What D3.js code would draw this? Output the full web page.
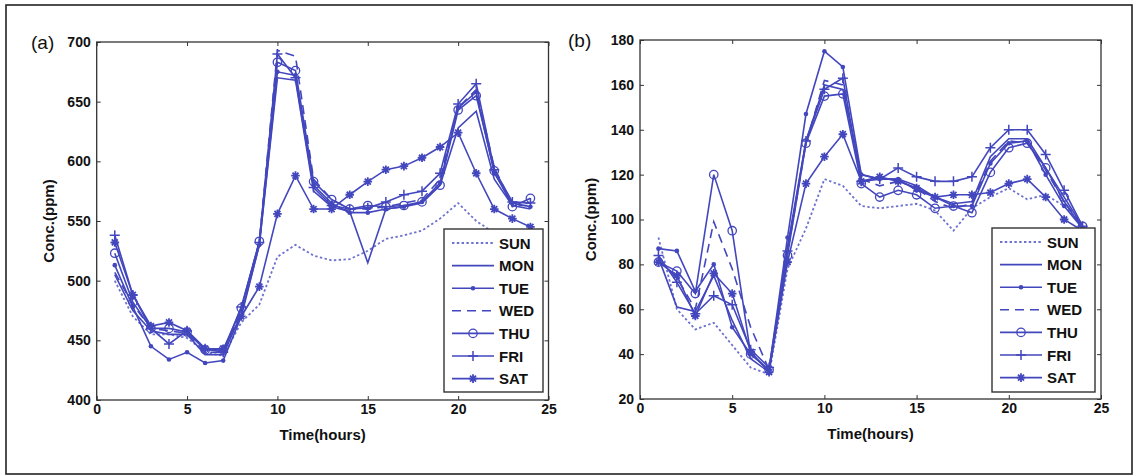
<!DOCTYPE html>
<html>
<head>
<meta charset="utf-8">
<script src="https://cdn.jsdelivr.net/npm/d3@7"></script>
<style>
  html, body { margin: 0; padding: 0; background: #fff; }
  svg { display: block; }
  text { font-family: "Liberation Sans", Arial, sans-serif; }
</style>
</head>
<body>
<svg id="chart" width="1133" height="475"></svg>
<script>
// ---------- DATA ----------
const hours = [1,2,3,4,5,6,7,8,9,10,11,12,13,14,15,16,17,18,19,20,21,22,23,24];
const days = ["SUN","MON","TUE","WED","THU","FRI","SAT"];

// Panel (a)
const sunA = [500,470,455,455,452,440,437,465,480,520,530,521,517,518,525,535,538,542,552,565,550,540,535,530];
const monA = [505,475,458,455,455,438,438,472,530,670,668,575,562,558,515,560,562,565,580,628,642,585,563,560];
const tueA = [513,478,445,434,440,431,433,470,530,675,672,580,565,557,557,560,562,566,582,645,658,590,565,562];
const wedA = [507,480,460,458,456,440,440,475,533,693,688,585,568,560,560,562,565,568,585,645,660,595,563,563];
const thuA = [523,482,460,460,457,442,442,477,533,683,676,583,568,560,563,562,563,566,580,643,655,592,562,569];
const friA = [538,488,460,447,458,443,440,478,532,690,670,578,563,560,561,566,572,575,590,648,665,593,566,565];
const satA = [532,488,462,465,458,443,443,470,495,556,588,560,560,572,583,593,596,603,612,624,590,560,552,545];

// Panel (b)
const sunB = [92,60,51,54,44,34,31,78,96,118,115,106,105,106,107,104,95,105,110,114,109,111,106,98];
const monB = [83,61,59,75,55,38,32,88,135,160,158,120,118,118,115,110,107,108,128,136,136,123,108,96];
const tueB = [87,86,68,80,52,40,33,92,147,175,168,120,118,118,113,110,106,106,125,134,135,120,106,96];
const wedB = [82,74,60,99,78,52,33,85,134,162,160,118,115,117,114,108,105,107,126,135,134,122,108,97];
const thuB = [81,77,67,120,95,40,33,84,134,155,156,116,110,113,111,105,106,103,121,132,134,123,110,97];
const friB = [84,72,58,66,62,42,34,86,135,158,163,117,118,123,119,117,117,119,132,140,140,129,113,97];
const satB = [81,75,57,76,67,41,32,81,116,128,138,117,119,117,114,110,111,111,112,116,118,110,100,95];

const xTicks = [0,5,10,15,20,25];
const yTicksA = [400,450,500,550,600,650,700];
const yTicksB = [20,40,60,80,100,120,140,160,180];

// ---------- STYLE ----------
const lineColor = "#4347bd";
const dotColor = "#6e72cf";
const styles = {
  SUN: {dash: "2.4,2.4", marker: null, color: dotColor},
  MON: {dash: null, marker: null, color: lineColor},
  TUE: {dash: null, marker: "dot", color: lineColor},
  WED: {dash: "9,6", marker: null, color: lineColor},
  THU: {dash: null, marker: "circle", color: lineColor},
  FRI: {dash: null, marker: "plus", color: lineColor},
  SAT: {dash: null, marker: "star", color: lineColor}
};

const svg = d3.select("#chart");

// outer frame
svg.append("rect").attr("x", 6).attr("y", 5).attr("width", 1126).attr("height", 469)
  .attr("fill", "none").attr("stroke", "#222").attr("stroke-width", 1.6);

function drawMarker(g, type, cx, cy, color) {
  if (!type) return;
  if (type === "dot") {
    g.append("circle").attr("cx", cx).attr("cy", cy).attr("r", 2.3).attr("fill", color);
  } else if (type === "circle") {
    g.append("circle").attr("cx", cx).attr("cy", cy).attr("r", 4.2)
      .attr("fill", "none").attr("stroke", color).attr("stroke-width", 1.3);
  } else if (type === "plus") {
    const s = 5;
    g.append("path").attr("d", `M${cx-s},${cy}H${cx+s}M${cx},${cy-s}V${cy+s}`)
      .attr("stroke", color).attr("stroke-width", 1.5).attr("fill", "none");
  } else if (type === "star") {
    const s = 4.3, d = 3.0;
    g.append("path").attr("d",
      `M${cx-s},${cy}H${cx+s}M${cx},${cy-s}V${cy+s}M${cx-d},${cy-d}L${cx+d},${cy+d}M${cx-d},${cy+d}L${cx+d},${cy-d}`)
      .attr("stroke", color).attr("stroke-width", 1.8).attr("fill", "none");
  }
}

function drawPanel(cfg) {
  const {left, right, top, bottom, yDomain, yTicks, series, label, labelX, ylabelX, legend} = cfg;
  const x = d3.scaleLinear().domain([0, 25]).range([left, right]);
  const y = d3.scaleLinear().domain(yDomain).range([bottom, top]);
  const g = svg.append("g");

  // frame
  g.append("rect").attr("x", left).attr("y", top).attr("width", right - left).attr("height", bottom - top)
    .attr("fill", "none").attr("stroke", "#333").attr("stroke-width", 1.3);

  const tickStyle = sel => {
    sel.select(".domain").remove();
    sel.selectAll(".tick line").attr("stroke", "#333").attr("stroke-width", 1);
    sel.selectAll("text").attr("font-size", 14).attr("font-weight", "bold").attr("fill", "#111");
  };

  g.append("g").attr("transform", `translate(0,${bottom})`)
    .call(d3.axisBottom(x).tickValues(xTicks).tickSize(-4).tickPadding(4).tickFormat(d3.format("d")))
    .call(tickStyle);
  g.append("g").attr("transform", `translate(0,${top})`)
    .call(d3.axisTop(x).tickValues(xTicks).tickSize(-4).tickFormat(""))
    .call(tickStyle);
  g.append("g").attr("transform", `translate(${left},0)`)
    .call(d3.axisLeft(y).tickValues(yTicks).tickSize(-4).tickPadding(6).tickFormat(d3.format("d")))
    .call(tickStyle);
  g.append("g").attr("transform", `translate(${right},0)`)
    .call(d3.axisRight(y).tickValues(yTicks).tickSize(-4).tickFormat(""))
    .call(tickStyle);

  // axis titles
  g.append("text").attr("x", (left + right) / 2).attr("y", bottom + 40)
    .attr("text-anchor", "middle").attr("font-size", 15).attr("font-weight", "bold").attr("fill", "#111")
    .text("Time(hours)");
  g.append("text").attr("transform", `translate(${ylabelX},${(top + bottom) / 2}) rotate(-90)`)
    .attr("text-anchor", "middle").attr("font-size", 15).attr("font-weight", "bold").attr("fill", "#111")
    .text("Conc.(ppm)");
  // panel label
  g.append("text").attr("x", labelX).attr("y", top + 7)
    .attr("font-size", 19).attr("fill", "#111").text(label);

  // lines
  const line = d3.line().x((d, i) => x(hours[i])).y(d => y(d));
  const pg = g.append("g");
  days.forEach((day, k) => {
    const st = styles[day];
    const vals = series[k];
    pg.append("path").attr("d", line(vals)).attr("fill", "none")
      .attr("stroke", st.color).attr("stroke-width", day === "SUN" ? 1.8 : 1.6)
      .attr("stroke-dasharray", st.dash);
    vals.forEach((v, i) => drawMarker(pg, st.marker, x(hours[i]), y(v), st.color));
  });

  // legend
  const lg = g.append("g");
  lg.append("rect").attr("x", legend.x).attr("y", legend.y).attr("width", legend.w).attr("height", legend.h)
    .attr("fill", "#fff").attr("stroke", "#333").attr("stroke-width", 1.4);
  days.forEach((day, k) => {
    const st = styles[day];
    const cy = legend.y + 14 + k * 22.6;
    const x1 = legend.x + 8, x2 = legend.x + 50;
    lg.append("line").attr("x1", x1).attr("x2", x2).attr("y1", cy).attr("y2", cy)
      .attr("stroke", st.color).attr("stroke-width", day === "SUN" ? 1.8 : 1.6).attr("stroke-dasharray", st.dash);
    drawMarker(lg, st.marker, (x1 + x2) / 2, cy, st.color);
    lg.append("text").attr("x", legend.x + 55).attr("y", cy + 5.5)
      .attr("font-size", 15).attr("font-weight", "bold").attr("fill", "#111").text(day);
  });
}

drawPanel({
  left: 96.7, right: 548.5, top: 42, bottom: 400,
  yDomain: [400, 700], yTicks: yTicksA,
  series: [sunA, monA, tueA, wedA, thuA, friA, satA],
  label: "(a)", labelX: 31, ylabelX: 54,
  legend: {x: 444, y: 229, w: 99, h: 163}
});

drawPanel({
  left: 640, right: 1101, top: 40, bottom: 399,
  yDomain: [20, 180], yTicks: yTicksB,
  series: [sunB, monB, tueB, wedB, thuB, friB, satB],
  label: "(b)", labelX: 568, ylabelX: 596,
  legend: {x: 992, y: 228, w: 103, h: 164}
});
</script>
</body>
</html>
